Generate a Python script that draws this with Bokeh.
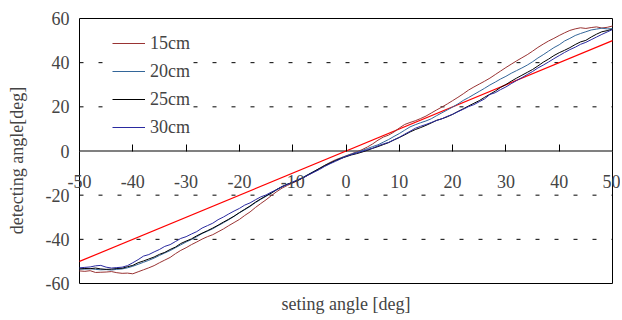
from bokeh.plotting import figure
from bokeh.models import Range1d, FixedTicker, Label
from bokeh.embed import file_html
from bokeh.resources import INLINE

# ---- data ----
setting_angle = list(range(-50, 51))

det_15cm = [-54.3, -54.5, -54.2, -55.0, -54.9, -54.8, -54.6, -55.1, -55.4, -55.3,
            -55.6, -54.7, -53.8, -52.9, -51.9, -50.6, -49.4, -48.2, -46.5, -45.0,
            -43.8, -42.4, -41.2, -39.9, -38.8, -37.9, -36.6, -35.3, -33.8, -32.4,
            -31.0, -29.2, -27.6, -25.6, -23.8, -22.1, -20.2, -18.4, -16.8, -15.6,
            -14.5, -13.3, -12.1, -10.8, -9.4, -7.9, -6.5, -5.2, -4.0, -3.1,
            -2.2, -1.3, -0.4, 0.6, 1.8, 3.2, 4.9, 6.3, 7.2, 8.6,
            10.4, 12.0, 12.9, 13.7, 14.7, 15.8, 17.2, 18.6, 19.9, 21.3,
            22.8, 24.3, 25.9, 27.6, 29.0, 30.3, 31.6, 33.0, 34.6, 36.2,
            37.8, 39.3, 40.8, 42.2, 43.6, 45.2, 46.9, 48.4, 49.8, 51.0,
            52.3, 53.5, 54.6, 55.3, 55.8, 55.5, 55.9, 56.2, 55.7, 56.0,
            56.6]

det_20cm = [-53.4, -53.5, -53.3, -53.6, -53.8, -53.7, -53.9, -53.6, -53.4, -52.9,
            -52.2, -51.3, -50.4, -49.5, -48.5, -47.3, -46.2, -45.1, -43.8, -42.5,
            -41.2, -40.1, -38.8, -37.4, -36.3, -35.2, -33.8, -32.5, -31.1, -29.6,
            -28.0, -26.6, -25.1, -23.4, -21.9, -20.5, -19.1, -17.6, -16.3, -15.1,
            -14.1, -13.0, -11.8, -10.5, -9.2, -7.9, -6.7, -5.4, -4.3, -3.2,
            -2.3, -1.4, -0.6, 0.2, 1.1, 2.0, 2.8, 4.0, 5.2, 6.6,
            7.9, 9.4, 10.9, 11.9, 12.8, 13.6, 14.6, 16.0, 17.3, 18.6,
            19.9, 21.3, 22.9, 24.2, 25.6, 27.0, 28.4, 29.9, 31.2, 32.6,
            33.8, 35.2, 36.4, 37.6, 38.9, 40.4, 42.1, 43.6, 45.2, 46.8,
            48.1, 49.8, 51.0, 52.3, 53.2, 54.0, 54.8, 55.2, 55.6, 55.3,
            55.4]

det_25cm = [-53.4, -53.2, -53.3, -53.0, -53.4, -53.6, -53.5, -53.2, -53.1, -52.4,
            -51.8, -50.6, -49.8, -48.9, -48.0, -46.8, -45.9, -44.6, -43.5, -41.9,
            -40.8, -39.8, -38.4, -37.2, -36.1, -34.9, -33.6, -32.2, -30.9, -29.5,
            -27.9, -26.4, -24.9, -23.2, -21.7, -20.3, -19.0, -17.4, -16.1, -15.0,
            -14.2, -13.3, -12.0, -10.6, -9.3, -8.0, -6.6, -5.5, -4.4, -3.4,
            -2.6, -1.8, -1.2, -0.5, 0.3, 1.2, 2.0, 2.9, 3.8, 5.0,
            6.1, 7.3, 8.6, 9.7, 10.6, 11.6, 12.7, 13.9, 14.6, 15.5,
            16.6, 17.9, 19.1, 20.4, 21.6, 22.8, 24.3, 25.7, 27.1, 28.8,
            30.1, 31.6, 33.0, 34.3, 35.6, 36.9, 38.5, 40.2, 41.6, 43.2,
            44.5, 45.6, 46.8, 48.2, 49.4, 50.1, 51.6, 52.9, 54.0, 54.5,
            55.2]

det_30cm = [-52.9, -52.7, -52.5, -52.0, -51.8, -52.6, -53.0, -52.8, -52.6, -51.9,
            -50.6, -49.2, -47.6, -46.9, -45.7, -44.6, -43.2, -42.4, -41.0, -39.6,
            -38.8, -37.6, -36.5, -34.9, -33.8, -32.7, -31.1, -29.9, -28.5, -27.2,
            -26.0, -24.5, -23.5, -22.1, -20.8, -19.9, -18.6, -17.5, -16.1, -15.2,
            -14.1, -13.0, -12.1, -10.8, -9.6, -8.4, -7.0, -5.8, -4.7, -3.6,
            -2.4, -1.6, -0.9, -0.2, 0.6, 1.3, 2.3, 3.2, 3.9, 5.1,
            6.2, 7.6, 8.9, 10.3, 11.2, 12.0, 12.9, 13.8, 14.6, 15.7,
            16.6, 17.8, 18.9, 20.1, 21.0, 22.3, 23.6, 25.6, 26.4, 27.8,
            29.0, 30.5, 31.9, 33.2, 34.6, 36.0, 37.6, 38.9, 40.3, 41.8,
            43.2, 44.6, 45.9, 47.0, 48.3, 49.2, 50.4, 51.6, 52.8, 53.9,
            55.0]

ideal_x = [-50, 50]
ideal_y = [-50, 50]

series_names = ["15cm", "20cm", "25cm", "30cm"]
series_values = [det_15cm, det_20cm, det_25cm, det_30cm]
series_colors = ["#993333", "#336699", "#000000", "#2A2AA0"]

x_min, x_max = -50, 50
y_min, y_max = -60, 60
x_ticks = [-50, -40, -30, -20, -10, 0, 10, 20, 30, 40, 50]
x_tick_labels = ["-50", "-40", "-30", "-20", "-10", "0", "10", "20", "30", "40", "50"]
y_ticks = [-60, -40, -20, 0, 20, 40, 60]
y_tick_labels = ["-60", "-40", "-20", "0", "20", "40", "60"]
grid_levels = [-40, -20, 20, 40]
x_title = "seting angle [deg]"
y_title = "detecting angle[deg]"

FONT = "Liberation Serif"

# ---- layout: the plotting frame covers the whole canvas; the visible box is drawn ----
W, H = 620, 320
box_l, box_r, box_t, box_b = 79, 612, 18, 283     # canvas pixels of the chart box
kx = (box_r - box_l) / (x_max - x_min)
ky = (box_b - box_t) / (y_max - y_min)
xr = Range1d(x_min - box_l / kx, x_max + (W - box_r) / kx)
yr = Range1d(y_min - (H - box_b) / ky, y_max + box_t / ky)

p = figure(width=W, height=H, output_backend="svg", toolbar_location=None,
           x_range=xr, y_range=yr,
           min_border_left=0, min_border_right=0, min_border_top=0,
           min_border_bottom=0)
p.outline_line_color = None
p.xgrid.visible = False
p.ygrid.visible = False

# dashed horizontal grid lines inside the box
p.segment(x0=[x_min] * len(grid_levels), x1=[x_max] * len(grid_levels),
          y0=grid_levels, y1=grid_levels, line_color="black", line_width=1,
          line_dash="4 15")
# box
p.quad(left=[x_min], right=[x_max], bottom=[y_min], top=[y_max],
       fill_color=None, line_color="black", line_width=1)
# gray zero line (x axis line)
p.segment(x0=[x_min], x1=[x_max], y0=[0], y1=[0], line_color="#808080", line_width=2)

p.line(ideal_x, ideal_y, line_color="#FF0000", line_width=1.2)
for name, vals, col in zip(series_names, series_values, series_colors):
    p.line(setting_angle, vals, line_color=col, line_width=1, legend_label=name)

# x axis crossing at y = 0
xa = p.xaxis[0]
xa.fixed_location = 0
xa.ticker = FixedTicker(ticks=x_ticks)
xa.major_label_overrides = {t: l for t, l in zip(x_ticks, x_tick_labels)}
xa.axis_line_color = None
xa.major_tick_in = 7
xa.major_tick_out = 0
xa.major_tick_line_color = "black"
xa.minor_tick_line_color = None
xa.major_label_standoff = 24
xa.major_label_text_font = FONT
xa.major_label_text_font_size = "18px"

# y axis fixed at the left side of the box
ya = p.yaxis[0]
ya.fixed_location = x_min
ya.ticker = FixedTicker(ticks=y_ticks)
ya.major_label_overrides = {t: l for t, l in zip(y_ticks, y_tick_labels)}
ya.axis_line_color = None
ya.major_tick_in = 0
ya.major_tick_out = 0
ya.minor_tick_line_color = None
ya.major_label_standoff = 10
ya.major_label_text_font = FONT
ya.major_label_text_font_size = "18px"
ya.axis_label = y_title
ya.axis_label_text_font = FONT
ya.axis_label_text_font_size = "18px"
ya.axis_label_text_font_style = "normal"
ya.axis_label_standoff = 16

# x axis title under the box
title_center_px = 303
p.add_layout(Label(x=(x_min + x_max) / 2, y=y_min - (title_center_px - box_b) / ky,
                   text=x_title, text_align="center", text_baseline="middle",
                   text_font=FONT, text_font_size="18px"))

lg = p.legend[0]
lg.location = (112, 182.5)
lg.border_line_color = None
lg.background_fill_color = "white"
lg.background_fill_alpha = 1
lg.padding = 4
lg.margin = 0
lg.spacing = 7
lg.glyph_width = 33
lg.label_standoff = 5
lg.label_text_font = FONT
lg.label_text_font_size = "18px"

open("out.html", "w").write(file_html(p, INLINE))
